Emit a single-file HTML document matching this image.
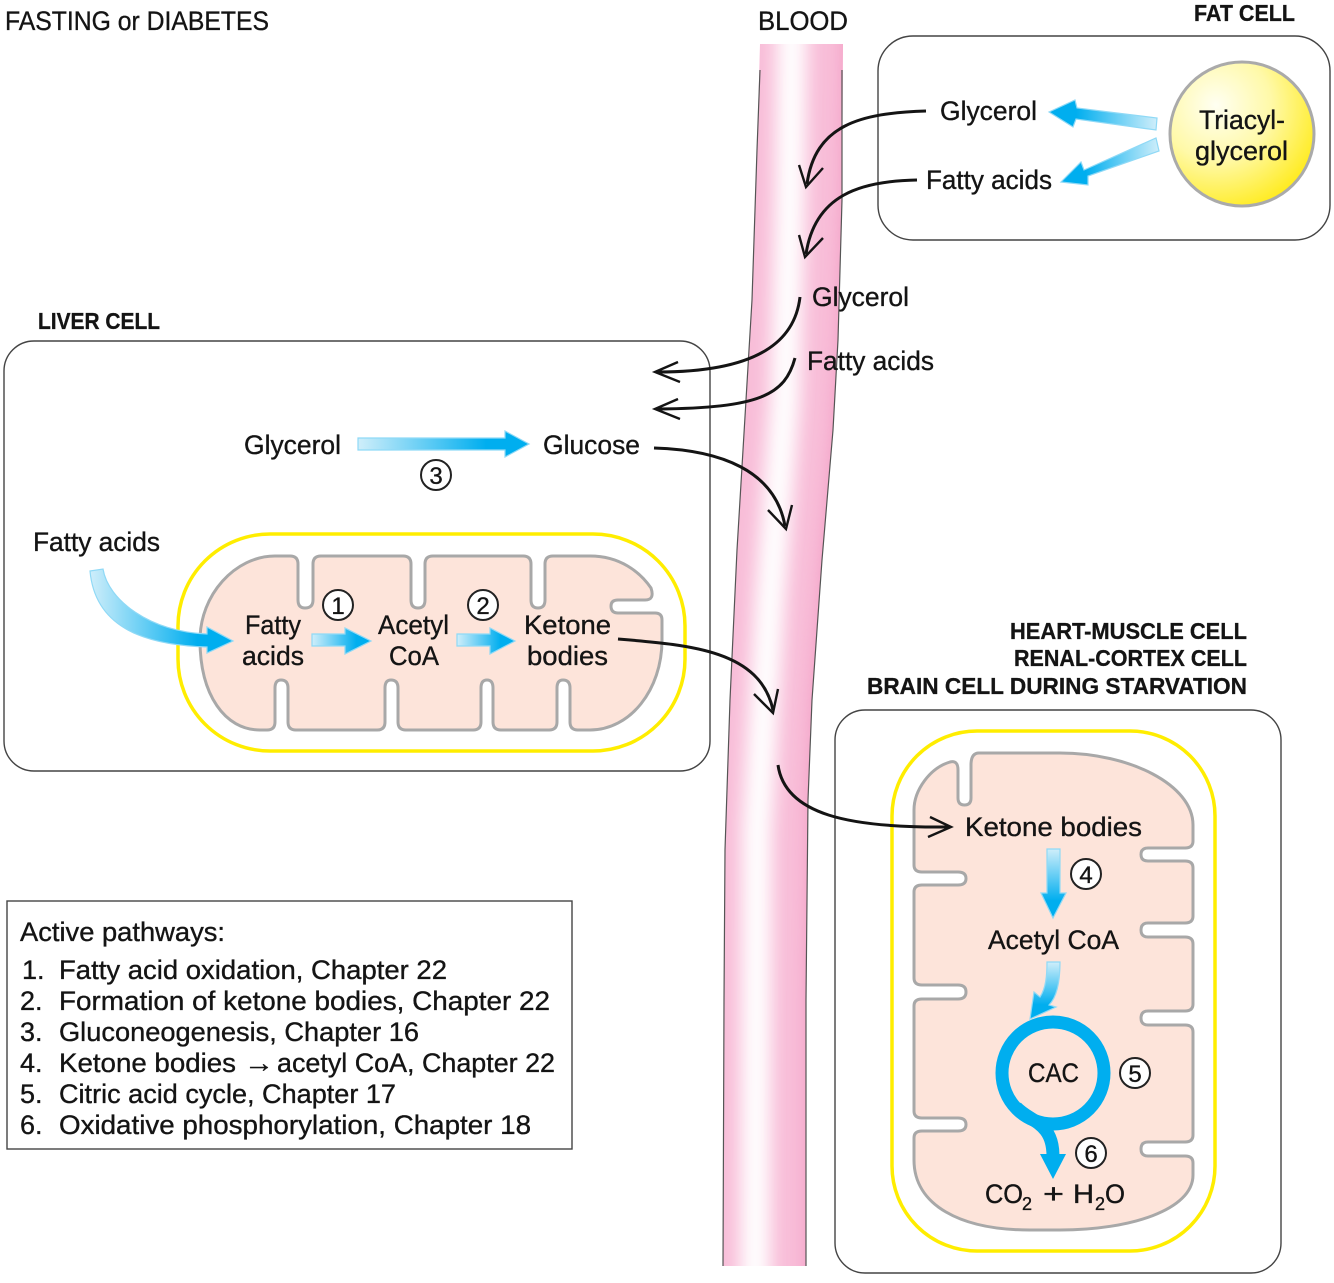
<!DOCTYPE html>
<html><head><meta charset="utf-8"><style>
html,body{margin:0;padding:0;background:#fff}
svg{display:block}
text{font-family:"Liberation Sans",sans-serif;fill:#141414;stroke:#141414;stroke-width:.35px;font-size:27px;transform:translateY(-1px)}
.b{font-weight:bold;font-size:23px;stroke-width:.3px}
.l{font-size:27px}
.n{font-size:24px;text-anchor:middle}
</style></head><body>
<svg width="1334" height="1283" viewBox="0 0 1334 1283" xmlns="http://www.w3.org/2000/svg">
<defs>
<linearGradient id="gr" x1="0" x2="1" y1="0" y2="0"><stop offset="0" stop-color="#cfeefa"/><stop offset=".75" stop-color="#00aeef"/></linearGradient>
<linearGradient id="gl" x1="1" x2="0" y1="0" y2="0"><stop offset="0" stop-color="#cfeefa"/><stop offset=".75" stop-color="#00aeef"/></linearGradient>
<linearGradient id="gd" x1="0" x2="0" y1="0" y2="1"><stop offset="0" stop-color="#cfeefa"/><stop offset=".75" stop-color="#00aeef"/></linearGradient>
<radialGradient id="fat" cx=".32" cy=".3" r=".85"><stop offset="0" stop-color="#fffff2"/><stop offset=".45" stop-color="#fff9a8"/><stop offset="1" stop-color="#ffe800"/></radialGradient>
<clipPath id="vc"><path d="M760 44L757 150L752 300L746 400L737 550L730 700L725 850L724 1000L723 1266L806 1266L806 1000L808 800L812 700L822 560L833 430L838 340L842 200L843 44Z"/></clipPath>
<filter id="bl" filterUnits="userSpaceOnUse" x="650" y="-50" width="300" height="1400"><feGaussianBlur stdDeviation="9"/></filter>
</defs>

<!-- cell boxes -->
<rect x="878" y="36" width="452" height="204" rx="35" fill="#fff" stroke="#444" stroke-width="1.4"/>
<rect x="4" y="341" width="706" height="430" rx="30" fill="#fff" stroke="#444" stroke-width="1.4"/>
<rect x="835" y="710" width="446" height="563" rx="30" fill="#fff" stroke="#444" stroke-width="1.4"/>
<rect x="7" y="901" width="565" height="248" fill="#fff" stroke="#444" stroke-width="1.4"/>

<!-- vessel -->
<g clip-path="url(#vc)">
<rect x="715" y="40" width="135" height="1230" fill="#f8bdd8"/>
<path d="M792 20L790 200L785 400L770 600L757 830L755 1290" fill="none" stroke="#fff" stroke-width="30" filter="url(#bl)"/>
<path d="M852 20L851 200L847 340L842 430L831 560L821 700L817 800L815 1000L815 1290" fill="none" stroke="#f293bd" stroke-width="14" filter="url(#bl)"/>
</g>
<path d="M760 70L757 150L752 300L746 400L737 550L730 700L725 850L724 1000L723 1266" fill="none" stroke="#555" stroke-width="1.2"/>
<path d="M842 70L842 200L838 340L833 430L822 560L812 700L808 800L806 1000L806 1266" fill="none" stroke="#555" stroke-width="1.2"/>

<!-- liver mitochondrion -->
<rect x="178" y="534" width="507" height="217" rx="92" ry="92" fill="#fff" stroke="#ffed00" stroke-width="3.5"/>
<path fill="#fde4da" stroke="#a8a8a8" stroke-width="3" d="M200 640C200 595 235 556 275 556L290 556Q298 556 298 564L298 600Q298 608 305 608Q313 608 313 600L313 564Q313 556 321 556L403 556Q411 556 411 564L411 600Q411 608 418 608Q425 608 425 600L425 564Q425 556 433 556L523 556Q531 556 531 564L531 600Q531 608 538 608Q545 608 545 600L545 564Q545 556 553 556L590 556C620 556 640 572 651 588Q655 600 645 600L618 600Q611 600 611 606Q611 613 618 613L655 613Q662 613 662 620L662 640C662 690 630 730 590 730L578 730Q570 730 570 722L570 688Q570 680 563 680Q557 680 557 688L557 722Q557 730 549 730L501 730Q493 730 493 722L493 688Q493 680 487 680Q481 680 481 688L481 722Q481 730 473 730L406 730Q398 730 398 722L398 688Q398 680 391 680Q385 680 385 688L385 722Q385 730 377 730L296 730Q288 730 288 722L288 688Q288 680 281 680Q275 680 275 688L275 722Q275 730 267 730L260 730C225 730 200 695 200 640Z"/>

<!-- heart mitochondrion -->
<rect x="892" y="731" width="323" height="520" rx="85" fill="#fff" stroke="#ffed00" stroke-width="3.5"/>
<path fill="#fde4da" stroke="#a8a8a8" stroke-width="3" d="M971 765Q971 753 979 753L1060 753C1130 753 1193 785 1193 825L1193 841Q1193 848 1185 848L1148 848Q1141 848 1141 854.5Q1141 861 1148 861L1185 861Q1193 861 1193 868L1193 916Q1193 923 1185 923L1148 923Q1141 923 1141 930Q1141 937 1148 937L1185 937Q1193 937 1193 944L1193 1004Q1193 1011 1185 1011L1148 1011Q1141 1011 1141 1018Q1141 1025 1148 1025L1185 1025Q1193 1025 1193 1032L1193 1135Q1193 1142 1185 1142L1148 1142Q1141 1142 1141 1149Q1141 1156 1148 1156L1185 1156Q1193 1156 1193 1163L1193 1175C1193 1210 1130 1230 1060 1230L1030 1230C960 1230 914 1205 914 1160L914 1138Q914 1131 922 1131L958 1131Q966 1131 966 1124.5Q966 1118 958 1118L922 1118Q914 1118 914 1111L914 1006Q914 999 922 999L958 999Q966 999 966 992Q966 985 958 985L922 985Q914 985 914 978L914 892Q914 885 922 885L958 885Q966 885 966 878.5Q966 872 958 872L922 872Q914 872 914 865L914 810C914 790 930 768 950 762Q958 760 958 770L958 798Q958 805 964.5 805Q971 805 971 798Z"/>

<!-- triacylglycerol -->
<ellipse cx="1242" cy="134" rx="72" ry="72" fill="url(#fat)" stroke="#aaa" stroke-width="3"/>

<!-- blue arrows -->
<g stroke="#8fd9f6" stroke-width="1.2">
<path fill="url(#gl)" d="M1049 112L1075 100L1077 108L1157 118L1156 130L1076 119L1073 127Z"/>
<path fill="url(#gl)" d="M1061 182L1081 162L1084 170L1156 138L1159 151L1088 176L1088 185Z"/>
<path fill="url(#gr)" d="M358 438L505 438L505 431L529 444L505 457L505 450L358 450Z"/>
<path fill="url(#gr)" d="M90 571L103 569C108 600 150 632 207 634L207 627L233 641L207 653L207 647C140 645 95 625 90 571Z"/>
<path fill="url(#gr)" d="M312 634L345 634L345 628L371 641L345 654L345 646L312 646Z"/>
<path fill="url(#gr)" d="M457 634L490 634L490 628L515 641L490 654L490 646L457 646Z"/>
<path fill="url(#gd)" d="M1047 849L1060 849L1060 893L1066 893L1053 918L1041 893L1047 893Z"/>
<path fill="url(#gd)" d="M1047 962L1060 962C1060 985 1056 998 1049 1005L1056 1007L1030 1019L1034 992L1040 997C1046 988 1047 975 1047 962Z"/>
</g>
<circle cx="1053" cy="1073" r="51" fill="none" stroke="#00aeef" stroke-width="13"/>
<path d="M1016 1107C1030 1122 1053 1122 1053 1156" fill="none" stroke="#00aeef" stroke-width="13"/>
<path d="M1040 1154L1066 1154L1053 1179Z" fill="#00aeef"/>

<!-- black curved arrows -->
<g fill="none" stroke="#141414" stroke-width="3" stroke-linecap="butt">
<path d="M926 111C860 113 815 125 807 184"/>
<path d="M917 180C860 181 815 195 806 254"/>
<path d="M800 297C795 340 760 372 658 372"/>
<path d="M795 358C785 395 760 408 658 409"/>
<path d="M654 448C720 450 775 470 785 526"/>
<path d="M618 639C690 645 760 650 773 710"/>
<path d="M778 765C785 815 850 828 948 827"/>
</g>
<g fill="none" stroke="#141414" stroke-width="2.4" stroke-linejoin="miter">
<path d="M799 165L806 187L823 168"/>
<path d="M799 235L805 257L823 238"/>
<path d="M678 362L655 372L680 382"/>
<path d="M678 399L655 409L680 419"/>
<path d="M768 510L786 529L792 505"/>
<path d="M754 694L773 713L778 689"/>
<path d="M930 817L951 827L928 837"/>
</g>

<!-- number circles -->
<g fill="#fff" stroke="#222" stroke-width="2">
<circle cx="436" cy="475" r="15"/><circle cx="338" cy="605" r="15"/><circle cx="483" cy="605" r="15"/>
<circle cx="1086" cy="874" r="15"/><circle cx="1135" cy="1073" r="15"/><circle cx="1091" cy="1153" r="15"/>
</g>
<text class="n" x="436" y="485">3</text><text class="n" x="338" y="615">1</text><text class="n" x="483" y="615">2</text>
<text class="n" x="1086" y="884">4</text><text class="n" x="1135" y="1083">5</text><text class="n" x="1091" y="1163">6</text>

<!-- labels -->
<text x="5" y="31" font-size="26" textLength="264" lengthAdjust="spacingAndGlyphs">FASTING or DIABETES</text>
<text x="758" y="31" textLength="90" lengthAdjust="spacingAndGlyphs">BLOOD</text>
<text class="b" x="1194" y="22" textLength="101" lengthAdjust="spacingAndGlyphs">FAT CELL</text>
<text class="b" x="38" y="330" textLength="122" lengthAdjust="spacingAndGlyphs">LIVER CELL</text>
<text class="b" x="1010" y="640" textLength="237" lengthAdjust="spacingAndGlyphs">HEART-MUSCLE CELL</text>
<text class="b" x="1014" y="667" textLength="233" lengthAdjust="spacingAndGlyphs">RENAL-CORTEX CELL</text>
<text class="b" x="867" y="695" textLength="380" lengthAdjust="spacingAndGlyphs">BRAIN CELL DURING STARVATION</text>

<text x="940" y="121" textLength="97" lengthAdjust="spacingAndGlyphs">Glycerol</text>
<text x="926" y="190" textLength="126" lengthAdjust="spacingAndGlyphs">Fatty acids</text>
<text x="1199" y="130" textLength="86" lengthAdjust="spacingAndGlyphs">Triacyl-</text>
<text x="1195" y="161" textLength="93" lengthAdjust="spacingAndGlyphs">glycerol</text>
<text x="812" y="307" textLength="97" lengthAdjust="spacingAndGlyphs">Glycerol</text>
<text x="807" y="371" textLength="127" lengthAdjust="spacingAndGlyphs">Fatty acids</text>
<text x="244" y="455" textLength="97" lengthAdjust="spacingAndGlyphs">Glycerol</text>
<text x="543" y="455" textLength="97" lengthAdjust="spacingAndGlyphs">Glucose</text>
<text x="33" y="552" textLength="127" lengthAdjust="spacingAndGlyphs">Fatty acids</text>
<text x="245" y="635" textLength="56" lengthAdjust="spacingAndGlyphs">Fatty</text>
<text x="242" y="666" textLength="62" lengthAdjust="spacingAndGlyphs">acids</text>
<text x="378" y="635" textLength="71" lengthAdjust="spacingAndGlyphs">Acetyl</text>
<text x="389" y="666" textLength="50" lengthAdjust="spacingAndGlyphs">CoA</text>
<text x="524" y="635" textLength="87" lengthAdjust="spacingAndGlyphs">Ketone</text>
<text x="527" y="666" textLength="81" lengthAdjust="spacingAndGlyphs">bodies</text>
<text x="965" y="837" textLength="177" lengthAdjust="spacingAndGlyphs">Ketone bodies</text>
<text x="988" y="950" textLength="131" lengthAdjust="spacingAndGlyphs">Acetyl CoA</text>
<text x="1028" y="1083" textLength="51" lengthAdjust="spacingAndGlyphs">CAC</text>
<text x="985" y="1204" textLength="38" lengthAdjust="spacingAndGlyphs">CO</text>
<text x="1022" y="1211" style="font-size:18px">2</text>
<text x="1043" y="1204" textLength="21" lengthAdjust="spacingAndGlyphs">+</text>
<text x="1073" y="1204" textLength="21" lengthAdjust="spacingAndGlyphs">H</text>
<text x="1095" y="1211" style="font-size:18px">2</text>
<text x="1105" y="1204" textLength="20" lengthAdjust="spacingAndGlyphs">O</text>

<!-- legend -->
<text class="l" x="20" y="942" textLength="205" lengthAdjust="spacingAndGlyphs">Active pathways:</text>
<text class="l" x="22" y="980">1.</text><text class="l" x="59" y="980" textLength="388" lengthAdjust="spacingAndGlyphs">Fatty acid oxidation, Chapter 22</text>
<text class="l" x="20" y="1011">2.</text><text class="l" x="59" y="1011" textLength="491" lengthAdjust="spacingAndGlyphs">Formation of ketone bodies, Chapter 22</text>
<text class="l" x="20" y="1042">3.</text><text class="l" x="59" y="1042" textLength="360" lengthAdjust="spacingAndGlyphs">Gluconeogenesis, Chapter 16</text>
<text class="l" x="20" y="1073">4.</text><text class="l" x="59" y="1073" textLength="177" lengthAdjust="spacingAndGlyphs">Ketone bodies</text><text class="l" x="244" y="1073" textLength="30" lengthAdjust="spacingAndGlyphs">→</text><text class="l" x="277" y="1073" textLength="278" lengthAdjust="spacingAndGlyphs">acetyl CoA, Chapter 22</text>
<text class="l" x="20" y="1104">5.</text><text class="l" x="59" y="1104" textLength="337" lengthAdjust="spacingAndGlyphs">Citric acid cycle, Chapter 17</text>
<text class="l" x="20" y="1135">6.</text><text class="l" x="59" y="1135" textLength="472" lengthAdjust="spacingAndGlyphs">Oxidative phosphorylation, Chapter 18</text>
</svg>
</body></html>
